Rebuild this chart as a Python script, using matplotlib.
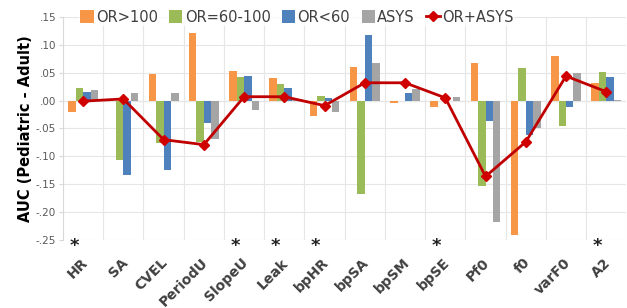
import matplotlib
matplotlib.use("Agg")
import matplotlib.pyplot as plt
import numpy as np

categories = ["HR", "SA", "CVEL", "PeriodU", "SlopeU", "Leak", "bpHR",
              "bpSA", "bpSM", "bpSE", "Pf0", "f0", "varF0", "A2"]
or_gt100 = [-0.021, 0.0, 0.048, 0.121, 0.053, 0.041, -0.028,
            0.061, -0.004, -0.012, 0.067, -0.241, 0.080, 0.031]
or_60_100 = [0.023, -0.107, -0.076, -0.075, 0.042, 0.030, 0.008,
             -0.168, 0.0, 0.0, -0.153, 0.058, -0.046, 0.051]
or_lt60 = [0.016, -0.133, -0.125, -0.040, 0.044, 0.022, 0.004,
           0.118, 0.013, 0.0, -0.037, -0.062, -0.011, 0.043]
asys = [0.019, 0.013, 0.013, -0.069, -0.016, 0.001, -0.021,
        0.067, 0.021, 0.006, -0.217, -0.050, 0.049, 0.001]
or_asys = [-0.001, 0.003, -0.070, -0.079, 0.007, 0.007, -0.009,
           0.032, 0.032, 0.005, -0.136, -0.074, 0.044, 0.016]
starred = ["HR", "SlopeU", "Leak", "bpHR", "bpSE", "A2"]

yticks = [0.15, 0.10, 0.05, 0.0, -0.05, -0.10, -0.15, -0.20, -0.25]
ytick_labels = [".15", ".10", ".05", ".00", "-.05", "-.10", "-.15", "-.20", "-.25"]

colors = ["#F79646", "#9BBB59", "#4F81BD", "#A5A5A5"]
names = ["OR>100", "OR=60-100", "OR<60", "ASYS"]

fig = plt.figure(figsize=(6.27, 3.08), dpi=100)
ax = fig.add_axes([0.1005, 0.2208, 0.8985, 0.724])

x = np.arange(len(categories))
w = 0.185
for k, (vals, c, n) in enumerate(zip([or_gt100, or_60_100, or_lt60, asys], colors, names)):
    ax.bar(x + (k - 1.5) * w, vals, w, color=c, label=n, zorder=2)

ax.plot(x, or_asys, color="#C00000", lw=2, marker="D", markersize=5.5,
        markerfacecolor="#D00000", markeredgecolor="#D00000", label="OR+ASYS", zorder=3)

ax.set_xlim(-0.5, len(categories) - 0.5)
ax.set_ylim(-0.25, 0.15)
ax.set_yticks(yticks)
ax.set_yticklabels(ytick_labels, fontsize=7.5, color="#595959")
ax.set_xticks(x)
ax.set_xticklabels([])
ax.tick_params(axis="x", length=0)
ax.tick_params(axis="y", length=3, color="#D9D9D9", pad=2)
ax.set_xticks(np.arange(-0.5, len(categories), 1), minor=True)
ax.tick_params(axis="x", which="minor", length=0)
ax.grid(axis="y", color="#E6E6E6", lw=0.8, zorder=0)
ax.grid(axis="x", which="minor", color="#E6E6E6", lw=0.8, zorder=0)
ax.axhline(0, color="#D9D9D9", lw=0.8, zorder=1)
for s in ["top", "right", "bottom"]:
    ax.spines[s].set_visible(False)
ax.spines["left"].set_color("#D9D9D9")

for i, c in enumerate(categories):
    ax.text(i - 0.07, -0.278, c, rotation=45, ha="right", va="top",
            rotation_mode="anchor", fontsize=10, fontweight="bold", color="#404040")
    if c in starred:
        ax.text(i - 0.22, -0.261, "*", ha="center", va="center",
                fontsize=13, fontweight="bold", color="#222222")

ax.set_ylabel("AUC (Pediatric - Adult)", fontsize=10.5, fontweight="bold", labelpad=2)

h, l = ax.get_legend_handles_labels()
h = h[1:] + h[:1]
l = l[1:] + l[:1]
leg = ax.legend(h, l, loc="center", bbox_to_anchor=(0.415, 1.0), ncol=5, frameon=True,
                fontsize=10.5, handlelength=0.9, handleheight=0.9, handletextpad=0.15,
                columnspacing=0.8, borderpad=0.1, labelcolor="#404040")
leg.get_frame().set_facecolor("white")
leg.get_frame().set_edgecolor("none")

fig.savefig("out.png", dpi=100)
